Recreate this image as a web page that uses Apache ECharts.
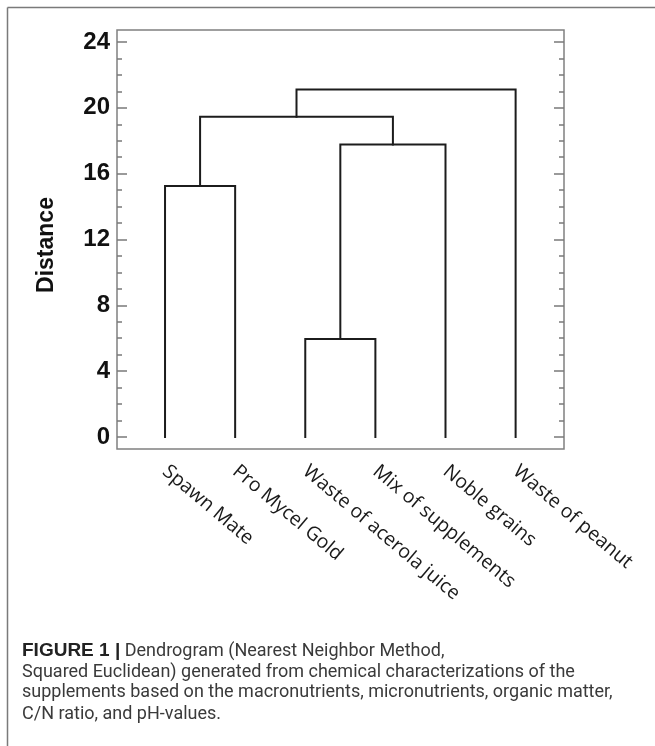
<!DOCTYPE html>
<html>
<head>
<meta charset="utf-8">
<script src="https://cdn.jsdelivr.net/npm/echarts@6/dist/echarts.min.js"></script>
<style>
html,body{margin:0;padding:0;background:#fff;}
#c{width:655px;height:746px;}
</style>
</head>
<body>
<div id="c"></div>
<script>
// ---- data ----
const leaves = ['Spawn Mate', 'Pro Mycel Gold', 'Waste of acerola juice', 'Mix of supplements', 'Noble grains', 'Waste of peanut'];
const leafPos = [1, 2, 3, 4, 5, 6];
// merges: node indices (0-5 leaves, 6+k = cluster formed by merge k)
const mergeLeft = [0, 2, 7, 6, 9];
const mergeRight = [1, 3, 4, 8, 5];
const mergeHeight = [15.25, 5.95, 17.78, 19.46, 21.12];
const yMajorTicks = [0, 4, 8, 12, 16, 20, 24];
const yMinorTicks = [1, 2, 3, 5, 6, 7, 9, 10, 11, 13, 14, 15, 17, 18, 19, 21, 22, 23];
const yAxisTitle = 'Distance';
const captionBold = 'FIGURE 1 |';
const captionLines = [
  ' Dendrogram (Nearest Neighbor Method,',
  'Squared Euclidean) generated from chemical characterizations of the',
  'supplements based on the macronutrients, micronutrients, organic matter,',
  'C/N ratio, and pH-values.'
];

// ---- build dendrogram link paths from merges ----
const nodeX = leafPos.slice();
const nodeY = leafPos.map(() => 0);
const series = [];
for (let k = 0; k < mergeHeight.length; k++) {
  const a = mergeLeft[k], b = mergeRight[k], h = mergeHeight[k];
  series.push({
    type: 'line',
    symbol: 'none',
    silent: true,
    animation: false,
    lineStyle: { color: '#1c1c1c', width: 2, join: 'miter', cap: 'square' },
    data: [[nodeX[a], nodeY[a]], [nodeX[a], h], [nodeX[b], h], [nodeX[b], nodeY[b]]]
  });
  nodeX.push((nodeX[a] + nodeX[b]) / 2);
  nodeY.push(h);
}

const Y_MIN = -0.73, Y_MAX = 24.73;
const tickColor = '#7a7a7a';
function yAx(pos, vals, len, labels) {
  return {
    type: 'value', position: pos, min: Y_MIN, max: Y_MAX,
    axisLine: { show: false },
    splitLine: { show: false },
    axisTick: { show: true, inside: true, length: len, customValues: vals, lineStyle: { color: tickColor, width: 1.5 } },
    axisLabel: labels ? {
      show: true, customValues: vals, margin: 7,
      fontFamily: 'Liberation Sans', fontWeight: 'bold', fontSize: 24, color: '#111'
    } : { show: false }
  };
}

const chart = echarts.init(document.getElementById('c'), null, { renderer: 'canvas' });
chart.setOption({
  animation: false,
  backgroundColor: '#fff',
  grid: { left: 117, top: 30, width: 447, height: 419, show: true, borderColor: '#808080', borderWidth: 1.5, backgroundColor: 'transparent' },
  xAxis: {
    type: 'value', min: 0.315, max: 6.69,
    axisLine: { show: false }, axisTick: { show: false }, splitLine: { show: false },
    axisLabel: {
      customValues: leafPos,
      formatter: v => leaves[Math.round(v) - 1],
      rotate: -40, margin: 20,
      fontFamily: 'Open Sans', fontSize: 19.5, color: '#1a1a1a'
    }
  },
  yAxis: [
    yAx('left', yMajorTicks, 10, true),
    yAx('left', yMinorTicks, 5, false),
    yAx('right', yMajorTicks, 10, false),
    yAx('right', yMinorTicks, 5, false)
  ],
  series: series,
  graphic: [
    { type: 'line', shape: { x1: 7.5, y1: 7.5, x2: 655, y2: 7.5 }, style: { stroke: '#7a7a7a', lineWidth: 1.5 } },
    { type: 'line', shape: { x1: 7.5, y1: 7.5, x2: 7.5, y2: 746 }, style: { stroke: '#7a7a7a', lineWidth: 1.5 } },
    { type: 'text', x: 47, y: 245, rotation: Math.PI / 2,
      style: { text: yAxisTitle, font: 'bold 23px "Liberation Sans"', fill: '#111', align: 'center', verticalAlign: 'middle' } },
    { type: 'text', x: 22, y: 651,
      style: { text: '{b|' + captionBold + '}' + captionLines[0], fontFamily: 'Roboto', fontSize: 18, fill: '#3a3a3a', verticalAlign: 'middle',
        rich: { b: { fontFamily: 'Liberation Sans', fontWeight: 'bold', fontSize: 19, fill: '#222' } } } },
    { type: 'text', x: 22, y: 672, style: { text: captionLines[1], font: '18px Roboto', fill: '#3a3a3a', verticalAlign: 'middle' } },
    { type: 'text', x: 22, y: 692.5, style: { text: captionLines[2], font: '18px Roboto', fill: '#3a3a3a', verticalAlign: 'middle' } },
    { type: 'text', x: 22, y: 714, style: { text: captionLines[3], font: '18px Roboto', fill: '#3a3a3a', verticalAlign: 'middle' } }
  ]
});
</script>
</body>
</html>
